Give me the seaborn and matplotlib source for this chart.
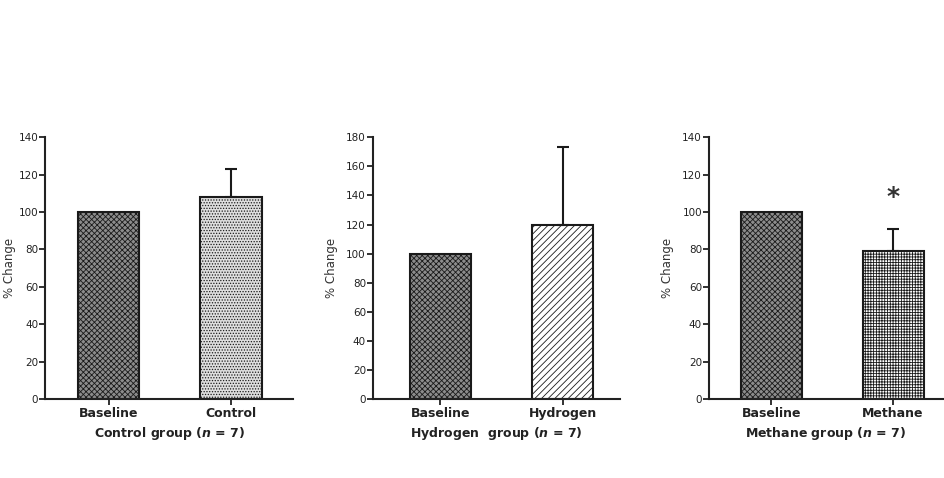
import matplotlib
matplotlib.use("Agg")
import matplotlib.pyplot as plt
import seaborn as sns
import pandas as pd

# data
groups = ["Control group", "Hydrogen  group", "Methane group"]
categories = [["Baseline", "Control"], ["Baseline", "Hydrogen"], ["Baseline", "Methane"]]
means = [[100, 108], [100, 120], [100, 79]]
sem = [[0, 15], [0, 53], [0, 12]]
y_max = [140, 180, 140]
y_step = [20, 20, 20]
n_subjects = [7, 7, 7]
significant = [False, False, True]

faces = [["#8c8c8c", "#dedede"], ["#8c8c8c", "white"], ["#8c8c8c", "white"]]
hatches = [["xxxxxx", "......"], ["xxxxxx", "/////"], ["xxxxxx", "++++++"]]

sns.set_theme(style="ticks")
plt.rcParams["font.family"] = ["DejaVu Sans"]
plt.rcParams["hatch.linewidth"] = 0.6
plt.rcParams["mathtext.fontset"] = "custom"
plt.rcParams["mathtext.it"] = "DejaVu Sans:italic:bold"

fig = plt.figure(figsize=(9.44, 4.78), dpi=100)
lefts = [0.0477, 0.395, 0.751]
widths = [0.263, 0.262, 0.248]
xlims = [(-0.52, 1.51), (-0.55, 1.47), (-0.51, 1.41)]

for i in range(3):
    ax = fig.add_axes([lefts[i], 0.165, widths[i], 0.548])
    df = pd.DataFrame({"cat": categories[i], "val": means[i]})
    sns.barplot(data=df, x="cat", y="val", ax=ax, width=0.5, color="white",
                edgecolor="#1a1a1a", linewidth=1.5, errorbar=None)
    for j, p in enumerate(ax.patches):
        p.set_facecolor(faces[i][j])
        p.set_hatch(hatches[i][j])
        p.set_edgecolor("#1a1a1a")
    # upward-only error bar on the treatment bar
    ax.errorbar([1], [means[i][1]], yerr=[[0], [sem[i][1]]], fmt="none",
                ecolor="#1a1a1a", elinewidth=1.5, capsize=4, capthick=1.5, zorder=1)
    if significant[i]:
        ax.text(1, means[i][1] + sem[i][1] + 17, "*", ha="center", va="center",
                fontsize=18, fontweight="bold", color="#333333")

    ax.set_xlim(*xlims[i])
    ax.set_ylim(0, y_max[i])
    ax.set_yticks(range(0, y_max[i] + 1, y_step[i]))
    sns.despine(ax=ax)
    for s in ["left", "bottom"]:
        ax.spines[s].set_linewidth(1.5)
        ax.spines[s].set_color("#222222")
    ax.tick_params(axis="y", length=4, width=1.3, labelsize=7.5, pad=1,
                   colors="#222222")
    ax.tick_params(axis="x", length=4, width=1.3, labelsize=9, pad=2,
                   colors="#222222")
    for lbl in ax.get_xticklabels():
        lbl.set_fontweight("bold")
    ax.set_ylabel("% Change", fontsize=8.5, color="#333333",
                  labelpad=2 if i == 0 else 6)
    ax.set_xlabel(f"{groups[i]} ($n$ = {n_subjects[i]})", fontsize=9,
                  fontweight="bold", color="#222222", labelpad=3)

fig.savefig("out.png", dpi=100)
